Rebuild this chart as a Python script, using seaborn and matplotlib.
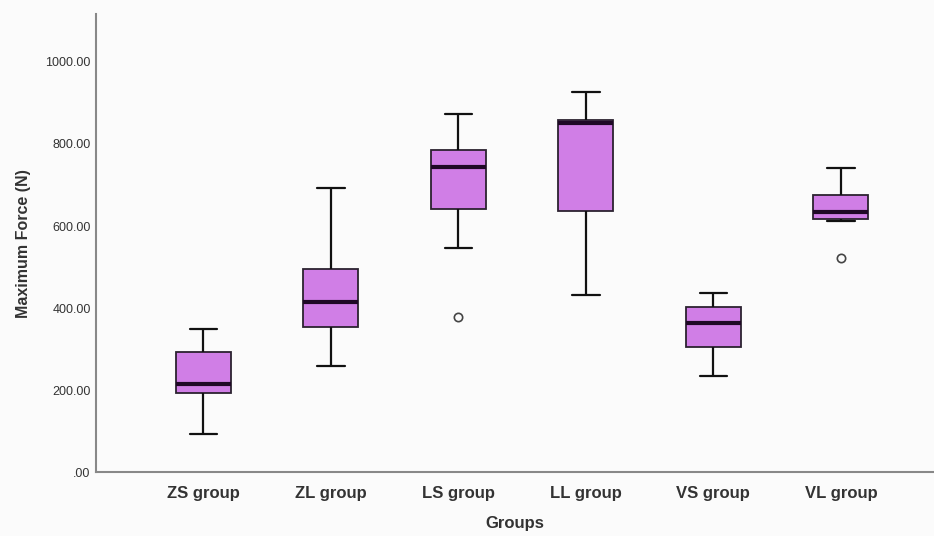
import numpy as np
import pandas as pd
import seaborn as sns
import matplotlib.pyplot as plt

# Box summaries (N)
groups = ["ZS group", "ZL group", "LS group", "LL group", "VS group", "VL group"]
lower_whisker = [93, 258, 547, 433, 234, 613]
q1 = [192, 354, 641, 637, 304, 616]
median = [216, 415, 743, 850, 364, 635]
q3 = [293, 495, 785, 859, 403, 676]
upper_whisker = [349, 692, 872, 927, 436, 742]
outliers = [None, None, 378, None, None, 521]

ytick_values = [0, 200, 400, 600, 800, 1000]
ytick_labels = [".00", "200.00", "400.00", "600.00", "800.00", "1000.00"]

# Build small samples whose quartiles / whiskers reproduce the summaries above
rows = []
for i, g in enumerate(groups):
    if outliers[i] is None:
        vals = [lower_whisker[i], q1[i], median[i], q3[i], upper_whisker[i]]
    else:
        vals = [outliers[i], lower_whisker[i], q1[i], q1[i], median[i],
                q3[i], q3[i], upper_whisker[i], upper_whisker[i]]
    for v in vals:
        rows.append({"Groups": g, "Force": v})
df = pd.DataFrame(rows)

sns.set_style("white")
plt.rcParams["font.family"] = ["Liberation Sans", "DejaVu Sans"]

fig = plt.figure(figsize=(9.34, 5.36), dpi=100)
fig.patch.set_facecolor("#fbfbfb")
ax = fig.add_axes([0.103, 0.119, 0.897, 0.855])
ax.set_facecolor("#fbfbfb")

sns.boxplot(data=df, x="Groups", y="Force", order=groups, ax=ax,
            color="#d07ee6", saturation=1, width=0.43, whis=1.5,
            linecolor="#2b2230", linewidth=1.3,
            medianprops=dict(color="#1f0826", linewidth=3),
            whiskerprops=dict(color="#111111", linewidth=1.6),
            capprops=dict(color="#111111", linewidth=1.6),
            flierprops=dict(marker="o", markerfacecolor="none",
                            markeredgecolor="#444444", markersize=6,
                            markeredgewidth=1.2))

ax.set_ylim(0, 1117)
ax.set_xlim(-0.84, 5.73)
ax.set_yticks(ytick_values)
ax.set_yticklabels(ytick_labels, fontsize=9, color="#333333")
ax.set_xticks(range(len(groups)))
ax.set_xticklabels(groups, fontsize=12, fontweight="bold", color="#333333")
ax.tick_params(axis="y", length=0, pad=4)
ax.tick_params(axis="x", length=0, pad=10)

ax.set_ylabel("Maximum Force (N)", fontsize=11.5, fontweight="bold",
              color="#333333", labelpad=10)
ax.set_xlabel("Groups", fontsize=12, fontweight="bold", color="#333333",
              labelpad=11)

sns.despine(ax=ax)
for side in ["left", "bottom"]:
    ax.spines[side].set_color("#888888")
    ax.spines[side].set_linewidth(1.5)

fig.savefig("out.png", dpi=100, facecolor=fig.get_facecolor())
